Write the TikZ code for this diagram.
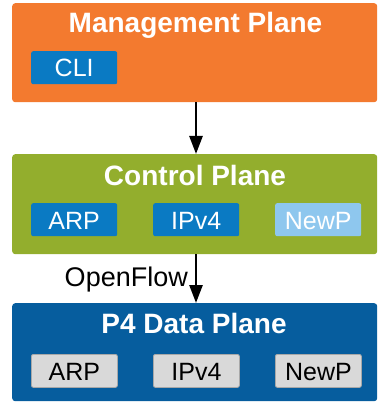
\documentclass[tikz,border=0pt]{standalone}
\usepackage{fontspec}
\setmainfont{Liberation Sans}
\usetikzlibrary{arrows.meta}
\definecolor{mgmt}{HTML}{F37A2F}
\definecolor{ctrl}{HTML}{93AE2D}
\definecolor{data}{HTML}{065D9E}
\definecolor{inblue}{HTML}{0A7AC3}
\definecolor{inlight}{HTML}{8EC7EE}
\definecolor{ingrey}{HTML}{D9D9D9}
\definecolor{ingreyb}{HTML}{A8A8A8}
\tikzset{
  plane/.style={draw=none, rounded corners=3pt},
  title/.style={anchor=base, text=white, font=\fontsize{28}{30}\selectfont\bfseries, inner sep=0pt},
  inbox/.style={rounded corners=2pt, minimum width=86pt, minimum height=33pt, inner sep=0pt},
  blueb/.style={inbox, fill=inblue},
  lightb/.style={inbox, fill=inlight},
  greyb/.style={inbox, fill=ingrey, draw=ingreyb, line width=0.8pt},
  intext/.style={anchor=base, inner sep=0pt, font=\fontsize{25}{27}\selectfont},
  flow/.style={line width=2.6pt, -{Triangle[length=18pt,width=13pt]}}
}
\begin{document}
\begin{tikzpicture}[x=1pt,y=-1pt]
\useasboundingbox (0,0) rectangle (378,403);
% planes
\node[plane, fill=mgmt, minimum width=365pt, minimum height=99pt, anchor=north west] (mp) at (12,3) {};
\node[plane, fill=ctrl, minimum width=365pt, minimum height=100pt, anchor=north west] (cp) at (12,154) {};
\node[plane, fill=data, minimum width=365pt, minimum height=98pt, anchor=north west] (dp) at (12,303) {};
% titles
\node[title] (mpt) at (195.5,33) {Management Plane};
\node[title] (cpt) at (195,185) {Control Plane};
\node[title] (dpt) at (194,333) {P4 Data Plane};
% management inner
\node[blueb, anchor=north west] (cli) at (31,51) {};
\node[intext, text=white] at (cli.center |- 0,77) {CLI};
% control inner
\node[blueb, anchor=north west] (carp) at (31,203) {};
\node[blueb, anchor=north west] (cipv) at (153,203) {};
\node[lightb, anchor=north west] (cnew) at (275,203) {};
\node[intext, text=white] at (carp.center |- 0,229) {ARP};
\node[intext, text=white] at (cipv.center |- 0,229) {IPv4};
\node[intext, text=white] at (cnew.center |- 0,229) {NewP};
% data inner
\node[greyb, anchor=north west] (darp) at (31,354) {};
\node[greyb, anchor=north west] (dipv) at (153,354) {};
\node[greyb, anchor=north west] (dnew) at (275,354) {};
\node[intext, text=black] at (darp.center |- 0,380) {ARP};
\node[intext, text=black] at (dipv.center |- 0,380) {IPv4};
\node[intext, text=black] at (dnew.center |- 0,380) {NewP};
% arrows
\draw[flow] (mp.south -| 196,0) -- (cp.north -| 196,0);
\draw[flow] (cp.south -| 196,0) -- (dp.north -| 196,0);
\node[anchor=base east, inner sep=0pt, font=\fontsize{27}{29}\selectfont] (of) at (188,286) {OpenFlow};
\end{tikzpicture}
\end{document}
